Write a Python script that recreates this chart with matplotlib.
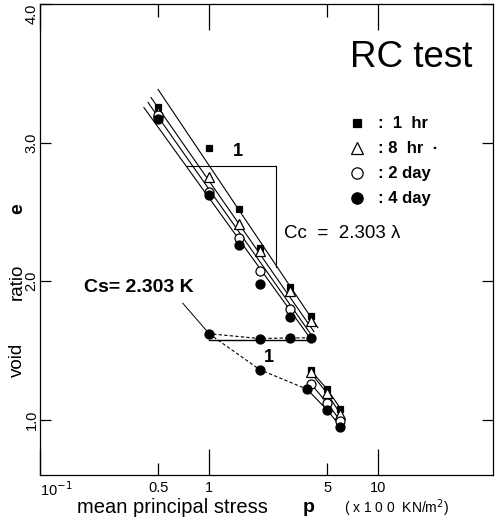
import matplotlib
matplotlib.use("Agg")
import matplotlib.pyplot as plt
import numpy as np

plt.rcParams['font.family'] = ['Liberation Sans', 'DejaVu Sans']

# loading stage (e - log p)
p_load = [0.5, 1, 1.5, 2, 3, 4]
e_1hr = [3.26, 2.96, 2.52, 2.24, 1.96, 1.745]
e_8hr = [3.22, 2.75, 2.415, 2.22, 1.93, 1.715]
p_2day = [0.5, 1, 1.5, 2, 3]
e_2day = [3.20, 2.64, 2.31, 2.07, 1.80]
e_4day = [3.17, 2.62, 2.26, 1.98, 1.74, 1.59]

# hand-drawn Cc lines (endpoints)
fit_p = [[0.50, 4.41], [0.454, 4.18], [0.436, 4.02], [0.412, 3.96]]
fit_e = [[3.383, 1.664], [3.325, 1.635], [3.289, 1.614], [3.253, 1.59]]

# unloading / reloading (4 day)
p_unload = [4, 3, 2, 1]
e_unload = [1.59, 1.59, 1.585, 1.62]
p_reload = [1, 2, 3.8]
e_reload = [1.62, 1.36, 1.22]

# second loading group
p_re = [4, 5, 6]
p_re4 = [3.8, 5, 6]
e_re_1hr = [1.355, 1.22, 1.08]
e_re_8hr = [1.34, 1.19, 1.04]
e_re_2day = [1.26, 1.12, 0.99]
e_re_4day = [1.22, 1.07, 0.95]

# slope construction lines
cc_h_p, cc_h_e = [0.74, 2.49], [2.834, 2.834]
cc_v_p, cc_v_e = [2.49, 2.49], [2.834, 2.10]
cs_h_p, cs_h_e = [1, 4], [1.575, 1.575]
cs_lead_p, cs_lead_e = [0.70, 0.986], [1.84, 1.63]


def main():
    fig = plt.figure(figsize=(4.97, 5.21), dpi=100)
    ax = fig.add_axes([0.0805, 0.0883, 0.9115, 0.904])
    ax.set_xscale('log')
    ax.set_xlim(0.1, 48)
    ax.set_ylim(0.6, 4.0)

    lw = 0.8
    for fp, fe in zip(fit_p, fit_e):
        ax.plot(fp, fe, 'k-', lw=lw, zorder=2)
    for pp, ee in [(p_re, e_re_1hr), (p_re, e_re_8hr), (p_re, e_re_2day), (p_re4, e_re_4day)]:
        ax.plot(pp, ee, 'k-', lw=lw, zorder=2)

    ax.plot(p_unload, e_unload, 'k--', lw=0.8, dashes=(3, 2), zorder=2)
    ax.plot(p_reload, e_reload, 'k--', lw=0.8, dashes=(3, 2), zorder=2)

    ax.plot(cc_h_p, cc_h_e, 'k-', lw=lw)
    ax.plot(cc_v_p, cc_v_e, 'k-', lw=lw)
    ax.plot(cs_h_p, cs_h_e, 'k-', lw=1.0)
    ax.plot(cs_lead_p, cs_lead_e, 'k-', lw=0.7)

    ms = dict(markeredgecolor='k', markeredgewidth=0.9, linestyle='none', zorder=4)
    ax.plot(p_load, e_1hr, marker='s', ms=5, markerfacecolor='k', label=':  1  hr', **ms)
    ax.plot(p_load, e_8hr, marker='^', ms=6.5, markerfacecolor='white', label=': 8  hr  ·', **ms)
    ax.plot(p_2day, e_2day, marker='o', ms=6.5, markerfacecolor='white', label=': 2 day', **ms)
    ax.plot(p_load, e_4day, marker='o', ms=6.5, markerfacecolor='k', label=': 4 day', **ms)

    ax.plot(p_unload[1:], e_unload[1:], marker='o', ms=6.5, markerfacecolor='k', **ms)
    ax.plot(p_reload[1:2], e_reload[1:2], marker='o', ms=6.5, markerfacecolor='k', **ms)
    ax.plot(p_re, e_re_1hr, marker='s', ms=5, markerfacecolor='k', **ms)
    ax.plot(p_re, e_re_8hr, marker='^', ms=6.5, markerfacecolor='white', **ms)
    ax.plot(p_re, e_re_2day, marker='o', ms=6.5, markerfacecolor='white', **ms)
    ax.plot(p_re4, e_re_4day, marker='o', ms=6.5, markerfacecolor='k', **ms)

    ax.legend(loc='upper left', bbox_to_anchor=(0.655, 0.786), frameon=False,
              prop={'weight': 'bold', 'size': 12}, handlelength=1.0,
              handletextpad=0.8, labelspacing=0.6, markerscale=1.25,
              borderpad=0.2)

    ax.text(0.82, 0.887, 'RC test', transform=ax.transAxes, fontsize=26.5,
            ha='center', va='center')
    ax.text(1.48, 2.935, '1', fontsize=13, fontweight='bold', ha='center', va='center')
    ax.text(2.26, 1.45, '1', fontsize=13, fontweight='bold', ha='center', va='center')
    ax.text(2.78, 2.34, 'Cc  =  2.303 λ', fontsize=13.5, ha='left', va='center')
    ax.text(0.182, 1.95, 'Cs= 2.303 \u039a', fontsize=14, fontweight='bold',
            ha='left', va='center')

    # ticks
    ax.set_xticks([0.1, 1, 10])
    ax.set_xticklabels(['10$^{-1}$', '1', '10'])
    ax.set_xticks([0.5, 5], minor=True)
    ax.xaxis.set_minor_formatter(matplotlib.ticker.FixedFormatter(['0.5', '5']))
    ax.tick_params(axis='x', which='major', direction='in', length=19, width=0.9,
                   top=True, labelsize=10.5, pad=4)
    ax.tick_params(axis='x', which='minor', direction='in', length=9, width=0.9,
                   top=True, labelsize=10.5, pad=4)
    ax.get_xticklabels()[0].set_ha('left')

    ax.set_yticks([1.0, 2.0, 3.0, 4.0])
    ax.set_yticklabels(['1.0', '2.0', '3.0', '4.0'], rotation=90, va='center')
    ax.tick_params(axis='y', direction='in', length=8, width=0.9, right=True,
                   labelsize=10.5, pad=1)
    ax.get_yticklabels()[3].set_va('top')
    for s in ax.spines.values():
        s.set_linewidth(0.9)

    # axis labels
    ax.text(0.082, -0.070, 'mean principal stress', transform=ax.transAxes,
            fontsize=14.5, ha='left', va='center')
    ax.text(0.592, -0.070, 'p', transform=ax.transAxes, fontsize=14,
            fontweight='bold', ha='center', va='center')
    ax.text(0.672, -0.070, '( x 1 0 0  KN/m$^2$)', transform=ax.transAxes,
            fontsize=10, ha='left', va='center')
    ax.text(-0.05, 0.244, 'void', transform=ax.transAxes, fontsize=13.5,
            rotation=90, ha='center', va='center')
    ax.text(-0.05, 0.41, 'ratio', transform=ax.transAxes, fontsize=13.5,
            rotation=90, ha='center', va='center')
    ax.text(-0.05, 0.565, 'e', transform=ax.transAxes, fontsize=14,
            fontweight='bold', rotation=90, ha='center', va='center')

    fig.savefig('out.png', dpi=100)


if __name__ == '__main__':
    main()
